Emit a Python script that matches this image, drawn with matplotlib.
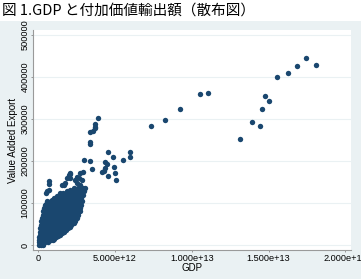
import numpy as np
import matplotlib
matplotlib.use("Agg")
import matplotlib.pyplot as plt
from matplotlib.patches import Rectangle

# GDP in units of 1e12, value added export in units of 1000
gdp_dense = [
    0.02, 0.15, 0.28,
    0.05, 0.25, 0.45, 0.62,
    0.03, 0.20, 0.40, 0.60, 0.80, 0.95,
    0.07, 0.30, 0.55, 0.78, 1.00, 1.15,
    0.10, 0.33, 0.58, 0.85, 1.10, 1.30, 1.45,
    0.10, 0.35, 0.62, 0.90, 1.20, 1.45, 1.65,
    0.14, 0.40, 0.70, 0.95, 1.25, 1.55, 1.80, 1.95,
    0.16, 0.42, 0.72, 1.00, 1.30, 1.60, 1.90, 2.15,
    0.20, 0.48, 0.78, 1.08, 1.35, 1.65, 1.95, 2.25, 2.40,
    0.24, 0.50, 0.82, 1.12, 1.42, 1.70, 2.00, 2.30, 2.50,
    0.28, 0.55, 0.85, 1.18, 1.50, 1.78, 2.05, 2.35, 2.60,
    0.33, 0.60, 0.90, 1.22, 1.55, 1.85, 2.15, 2.45, 2.70,
    0.40, 0.66, 0.95, 1.30, 1.60, 1.90, 2.20, 2.50, 2.75,
    0.45, 0.72, 1.00, 1.35, 1.65, 1.95, 2.30, 2.60, 2.80,
    0.55, 0.85, 1.15, 1.45, 1.75, 2.05, 2.40, 2.70, 2.85,
    1.00, 1.30, 1.60, 1.90, 2.20, 2.50, 2.80,
    1.40, 1.70, 2.00, 2.30, 2.60, 2.90,
    1.85, 2.15, 2.45, 2.75, 2.95,
    2.30, 2.60, 2.90, 3.05,
]
vax_dense = (
    [1] * 3 + [6] * 4 + [12] * 6 + [18] * 6 + [25] * 7 + [32] * 7
    + [40] * 8 + [48] * 8 + [56] * 9 + [64] * 9 + [72] * 9 + [80] * 9
    + [88] * 9 + [96] * 9 + [104] * 9 + [112] * 7 + [120] * 6
    + [128] * 5 + [136] * 4
)

gdp_fill = [
    0.12, 0.35, 0.52,
    0.12, 0.32, 0.50, 0.70, 0.88, 1.05,
    0.20, 0.45, 0.68, 0.92, 1.12, 1.30,
    0.22, 0.48, 0.75, 1.00, 1.25, 1.40, 1.58,
    0.25, 0.50, 0.78, 1.05, 1.35, 1.60, 1.80,
    0.28, 0.55, 0.85, 1.15, 1.45, 1.75, 2.05,
    0.32, 0.60, 0.92, 1.20, 1.50, 1.80, 2.10, 2.30,
    0.35, 0.65, 0.95, 1.25, 1.55, 1.85, 2.15, 2.42,
    0.40, 0.70, 1.00, 1.32, 1.62, 1.92, 2.22, 2.50,
    0.45, 0.75, 1.05, 1.38, 1.70, 2.00, 2.30, 2.58,
    0.50, 0.80, 1.10, 1.45, 1.75, 2.05, 2.35, 2.62,
    0.58, 0.85, 1.18, 1.50, 1.80, 2.12, 2.45, 2.70,
    0.70, 1.00, 1.30, 1.60, 1.90, 2.20, 2.55,
    0.90, 1.20, 1.50, 1.80, 2.10, 2.40, 2.65,
    1.20, 1.55, 1.85, 2.15, 2.45, 2.75,
    1.60, 1.90, 2.20, 2.50, 2.80,
    2.10, 2.40, 2.70,
]
vax_fill = (
    [9] * 3 + [15] * 6 + [22] * 6 + [29] * 7 + [36] * 7 + [44] * 7
    + [52] * 8 + [60] * 8 + [68] * 8 + [76] * 8 + [84] * 8 + [92] * 8
    + [100] * 7 + [108] * 7 + [116] * 6 + [124] * 5 + [132] * 3
)

gdp_mid = [
    0.50, 0.50, 0.57, 0.67, 0.72, 0.72,
    1.44, 1.55, 1.66, 1.76, 1.88, 1.98, 2.05, 2.09, 2.09,
    2.31, 2.42, 2.42, 2.53, 2.53, 2.63, 2.75, 2.75, 2.85, 2.90,
    2.96, 3.38, 3.50, 4.13, 4.31, 4.38, 4.38, 4.49, 4.53, 4.55,
    4.86, 4.92, 4.99, 5.05, 5.51, 5.97, 5.97,
    3.40, 3.40, 3.40, 3.57, 3.68, 3.73, 3.73, 3.88,
]
vax_mid = [
    97, 123, 128, 131, 145, 153,
    123, 143, 143, 147, 159, 167, 169, 159, 171,
    123, 131, 155, 147, 163, 159, 171, 143, 155, 174,
    202, 201, 180, 174, 176, 198, 183, 193, 222, 165,
    209, 185, 171, 155, 202, 221, 210,
    240, 246, 270, 272, 278, 282, 287, 303,
]

gdp_large = [7.32, 8.24, 9.26, 10.52, 11.03, 13.14, 13.94, 14.44,
             14.56, 14.75, 15.05, 15.53, 16.25, 16.84, 17.43, 18.06]
vax_large = [284, 298, 323, 360, 363, 253, 292, 284,
             324, 355, 344, 400, 410, 426, 446, 429]

x = np.array(gdp_dense + gdp_fill + gdp_mid + gdp_large) * 1e12
y = np.array(vax_dense + vax_fill + vax_mid + vax_large) * 1000

xticks = [0, 5e12, 1e13, 1.5e13, 2e13]
xlabels = ["0", "5.000e+12", "1.000e+13", "1.500e+13", "2.000e+13"]
yticks = [0, 100000, 200000, 300000, 400000, 500000]

bg = "#eaf1f3"
navy = "#1a476f"

plt.rcParams["font.family"] = ["Liberation Sans", "DejaVu Sans"]

fig = plt.figure(figsize=(3.61, 2.79), dpi=100, facecolor="white")
fig.patches.append(Rectangle((0, 0), 1, 1 - 21 / 279, transform=fig.transFigure,
                             facecolor=bg, edgecolor="none", zorder=-10))

ax = fig.add_axes([33 / 361, 29 / 279, 318 / 361, 220 / 279])
ax.set_facecolor("white")
ax.scatter(x, y, s=15, color=navy, linewidths=0, zorder=3)

ax.set_xlim(-0.34e12, 20.37e12)
ax.set_ylim(-11900, 512000)
ax.set_xticks(xticks)
ax.set_xticklabels(xlabels)
ax.set_yticks(yticks)
ax.set_yticklabels([str(v) for v in yticks], rotation=90, va="center")
ax.tick_params(labelsize=6.6, length=1.5, width=0.6, color="#8a8a8a", pad=1.5)
ax.tick_params(axis="y", pad=1)
ax.grid(axis="y", color=bg, linewidth=0.8, zorder=0)
ax.grid(axis="x", visible=False)

for s in ["top", "right"]:
    ax.spines[s].set_visible(False)
for s in ["left", "bottom"]:
    ax.spines[s].set_color("#9a9a9a")
    ax.spines[s].set_linewidth(0.8)

ax.set_xlabel("GDP", fontsize=7, labelpad=0)
ax.set_ylabel("Value Added Export", fontsize=7, labelpad=1.5)

fig.text(0.005, 1 - 11 / 279, "図 1.GDP と付加価値輸出額（散布図）",
         fontsize=10.5, va="center", ha="left",
         family=["Noto Sans CJK JP", "DejaVu Sans"])

fig.savefig("out.png", dpi=100)
